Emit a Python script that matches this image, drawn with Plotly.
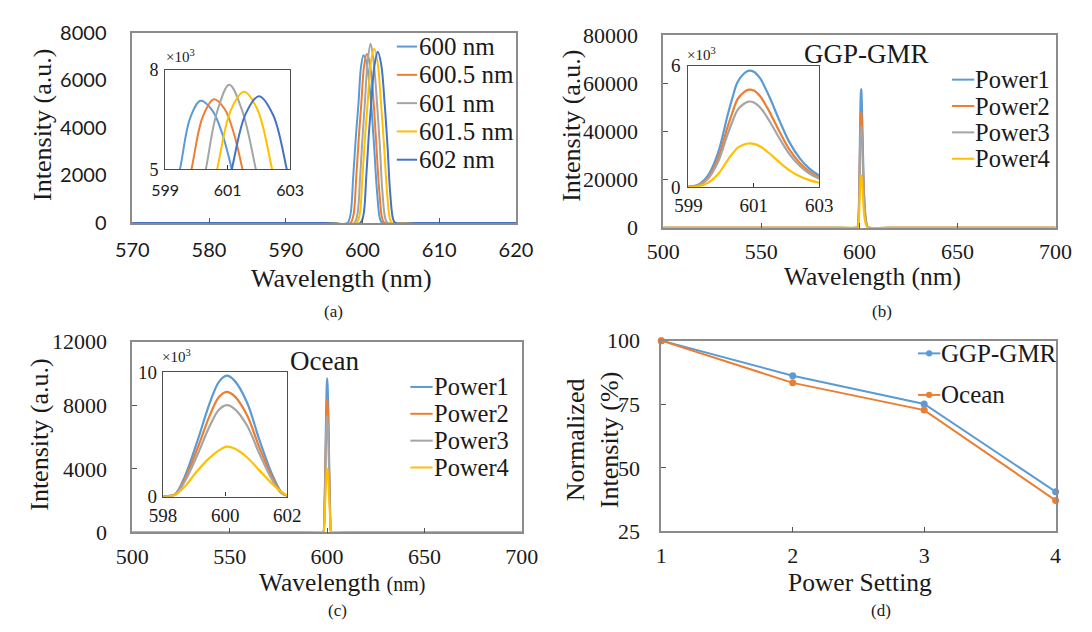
import plotly.graph_objects as go

W, H = 1092, 632
SERIF = "Liberation Serif"
SANS = "Lato"
TXT = "#1a1a1a"

# ---------------- DATA ----------------
# (a) emission spectra for different target wavelengths
a_names = ["600 nm", "600.5 nm", "601 nm", "601.5 nm", "602 nm"]
a_colors = ["#5B9BD5", "#ED7D31", "#A5A5A5", "#FFC000", "#4472C4"]
a600_x = [570, 575, 595, 598.0, 598.4, 598.8, 599.15, 599.47, 599.8, 600.13, 600.5, 600.8, 601.13, 601.5, 601.9, 602.3, 602.6, 606, 615, 620]
a600_y = [0, 0, 0, 0, 300, 2000, 3700, 5000, 6550, 7060, 6780, 6140, 5000, 3300, 1300, 150, 0, 0, 0, 0]
a6005_x = [570, 575, 595, 598.4, 598.8, 599.2, 599.52, 599.84, 600.2, 600.56, 600.9, 601.2, 601.47, 601.8, 602.2, 602.6, 602.9, 606, 615, 620]
a6005_y = [0, 0, 0, 0, 300, 2000, 3600, 5000, 6580, 7110, 6815, 6070, 5000, 3300, 1300, 150, 0, 0, 0, 0]
a601_x = [570, 575, 595, 598.9, 599.3, 599.7, 600.0, 600.3, 600.65, 601.05, 601.45, 601.9, 602.25, 602.6, 603.0, 603.3, 606, 615, 620]
a601_y = [0, 0, 0, 0, 300, 2000, 3600, 5000, 6700, 7545, 6800, 5000, 3300, 1300, 150, 0, 0, 0, 0]
a6015_x = [570, 575, 595, 599.2, 599.6, 600.0, 600.35, 600.66, 601.1, 601.52, 601.95, 602.42, 602.8, 603.2, 603.6, 603.9, 607, 615, 620]
a6015_y = [0, 0, 0, 0, 300, 2000, 3700, 5000, 6780, 7330, 6800, 5000, 3300, 1300, 150, 0, 0, 0, 0]
a602_x = [570, 575, 595, 599.7, 600.1, 600.5, 600.82, 601.13, 601.57, 602.0, 602.45, 602.89, 603.25, 603.6, 604.0, 604.3, 607, 615, 620]
a602_y = [0, 0, 0, 0, 300, 2000, 3700, 5000, 6660, 7200, 6640, 5000, 3300, 1300, 150, 0, 0, 0, 0]
a_xs = [a600_x, a6005_x, a601_x, a6015_x, a602_x]
a_ys = [a600_y, a6005_y, a601_y, a6015_y, a602_y]

# (b) GGP-GMR spectra at four power settings
p_names = ["Power1", "Power2", "Power3", "Power4"]
p_colors = ["#5B9BD5", "#ED7D31", "#A5A5A5", "#FFC000"]
b_x = [500, 510, 590, 598, 599.0, 599.3, 599.6, 599.9, 600.2, 600.35, 600.5, 600.7, 600.85, 601.0, 601.2, 601.35, 601.5, 601.8, 602.1, 602.4, 602.7, 603.0, 603.4, 604, 605, 615, 690, 700]
b_p1 = [0, 0, 0, 0, 300, 1200, 5800, 16700, 35700, 44350, 51800, 56160, 57600, 57020, 53600, 48960, 43800, 32300, 21900, 14400, 9200, 5800, 2900, 600, 0, 0, 0, 0]
b_p2 = [0, 0, 0, 0, 250, 1000, 4800, 14000, 29900, 37110, 43400, 46990, 48200, 47720, 44800, 40970, 36600, 27000, 18300, 12100, 7700, 4800, 2400, 500, 0, 0, 0, 0]
b_p3 = [0, 0, 0, 0, 200, 850, 4200, 12300, 26200, 32570, 38100, 41240, 42300, 41880, 39300, 35960, 32100, 23700, 16100, 10600, 6800, 4200, 2100, 400, 0, 0, 0, 0]
b_p4 = [0, 0, 0, 0, 100, 430, 2200, 6300, 13400, 16630, 19400, 21060, 21600, 21380, 20100, 18360, 16400, 12100, 8200, 5400, 3500, 2200, 1100, 200, 0, 0, 0, 0]
b_ys = [b_p1, b_p2, b_p3, b_p4]

# (c) Ocean spectra at four power settings
c_x = [500, 510, 590, 598.0, 598.2, 598.4, 598.7, 599.1, 599.5, 599.8, 600.05, 600.3, 600.7, 601.1, 601.5, 601.8, 602.0, 602.2, 610, 690, 700]
c_p1 = [0, 0, 0, 0, 50, 200, 1600, 4400, 7470, 9200, 9700, 9300, 7570, 4560, 1840, 390, 50, 0, 0, 0, 0]
c_p2 = [0, 0, 0, 0, 40, 170, 1390, 3800, 6470, 7980, 8400, 8060, 6550, 3950, 1600, 340, 40, 0, 0, 0, 0]
c_p3 = [0, 0, 0, 0, 40, 150, 1210, 3300, 5640, 6960, 7330, 7040, 5720, 3450, 1390, 290, 40, 0, 0, 0, 0]
c_p4 = [0, 0, 0, 0, 20, 150, 800, 2050, 3100, 3700, 4000, 3850, 3150, 2100, 1050, 400, 100, 0, 0, 0, 0]
c_ys = [c_p1, c_p2, c_p3, c_p4]

# (d) normalized intensity vs power setting
d_x = [1, 2, 3, 4]
d_names = ["GGP-GMR", "Ocean"]
d_colors = ["#5B9BD5", "#ED7D31"]
d_ggp = [100, 86.2, 75.1, 40.6]
d_ocean = [100, 83.4, 72.7, 37.2]
d_ys = [d_ggp, d_ocean]


def fx(px):
    return px / W


def fy(py):
    return 1 - py / H


fig = go.Figure()

spl = dict(shape="spline", smoothing=1.0)
for n, col, xs, ys in zip(a_names, a_colors, a_xs, a_ys):
    fig.add_trace(go.Scatter(x=xs, y=ys, name=n, mode="lines", line=dict(color=col, width=2, **spl),
                             xaxis="x", yaxis="y", showlegend=False))
    fig.add_trace(go.Scatter(x=xs, y=ys, name=n, mode="lines", line=dict(color=col, width=2, **spl),
                             xaxis="x5", yaxis="y5", showlegend=False))
for n, col, ys in zip(p_names, p_colors, b_ys):
    fig.add_trace(go.Scatter(x=b_x, y=ys, name=n, mode="lines", line=dict(color=col, width=2, **spl),
                             xaxis="x2", yaxis="y2", showlegend=False))
    fig.add_trace(go.Scatter(x=b_x, y=ys, name=n, mode="lines", line=dict(color=col, width=2.2, **spl),
                             xaxis="x6", yaxis="y6", showlegend=False))
for n, col, ys in zip(p_names, p_colors, c_ys):
    fig.add_trace(go.Scatter(x=c_x, y=ys, name=n, mode="lines", line=dict(color=col, width=2, **spl),
                             xaxis="x3", yaxis="y3", showlegend=False))
    fig.add_trace(go.Scatter(x=c_x, y=ys, name=n, mode="lines", line=dict(color=col, width=2.2, **spl),
                             xaxis="x7", yaxis="y7", showlegend=False))
for n, col, ys in zip(d_names, d_colors, d_ys):
    fig.add_trace(go.Scatter(x=d_x, y=ys, name=n, mode="lines+markers", line=dict(color=col, width=2),
                             marker=dict(color=col, size=7), cliponaxis=False,
                             xaxis="x4", yaxis="y4", showlegend=False))

FRAME = "#8c8c8c"
IFRAME = "#4d4d4d"


def main_x(dom, rng, tv, font, standoff, anchor):
    return dict(domain=[fx(dom[0]), fx(dom[1])], range=rng, tickvals=tv, tickformat="d",
                ticks="inside", ticklen=5, tickcolor="#555555", tickwidth=1,
                showline=True, linecolor=FRAME, linewidth=1.6, mirror=True,
                showgrid=False, zeroline=False, tickfont=font, ticklabelstandoff=standoff,
                anchor=anchor, fixedrange=True)


def main_y(dom, rng, tv, font, standoff, anchor, ticks="inside"):
    return dict(domain=[fy(dom[1]), fy(dom[0])], range=rng, tickvals=tv, tickformat="d",
                ticks=ticks, ticklen=5, tickcolor="#555555", tickwidth=1,
                showline=True, linecolor=FRAME, linewidth=1.6, mirror=True,
                showgrid=False, zeroline=False, tickfont=font, ticklabelstandoff=standoff,
                anchor=anchor, fixedrange=True)


def inset_x(dom, rng, tv, tt, font, standoff, anchor):
    return dict(domain=[fx(dom[0]), fx(dom[1])], range=rng, tickvals=tv, ticktext=tt,
                ticks="inside", ticklen=4, tickcolor="#333333",
                showline=True, linecolor=IFRAME, linewidth=1.2, mirror=True,
                showgrid=False, zeroline=False, tickfont=font, ticklabelstandoff=standoff,
                anchor=anchor, fixedrange=True)


def inset_y(dom, rng, tv, tt, font, standoff, anchor):
    return dict(domain=[fy(dom[1]), fy(dom[0])], range=rng, tickvals=tv, ticktext=tt,
                ticks="", showline=True, linecolor=IFRAME, linewidth=1.2, mirror=True,
                showgrid=False, zeroline=False, tickfont=font, ticklabelstandoff=standoff,
                anchor=anchor, fixedrange=True)


sans20 = dict(family=SANS, size=20, color=TXT)
serif22 = dict(family=SERIF, size=22, color=TXT)

fig.update_layout(
    width=W, height=H, margin=dict(l=0, r=0, t=0, b=0),
    paper_bgcolor="white", plot_bgcolor="white", showlegend=False,
    font=dict(family=SERIF, color=TXT),
    xaxis=main_x((119, 515), [570, 620], [570, 580, 590, 600, 610, 620], sans20, 8, "y"),
    yaxis=main_y((20.7, 219), [0, 8000], [0, 2000, 4000, 6000, 8000], sans20, 20, "x", ticks=""),
    xaxis2=main_x((667, 1072), [500, 700], [500, 550, 600, 650, 700], serif22, 3, "y2"),
    yaxis2=main_y((23, 224), [0, 80000], [0, 20000, 40000, 60000, 80000], serif22, 19, "x2"),
    xaxis3=main_x((119, 521), [500, 700], [500, 550, 600, 650, 700], serif22, 3, "y3"),
    yaxis3=main_y((342.7, 541.7), [0, 12000], [0, 4000, 8000, 12000], serif22, 19, "x3"),
    xaxis4=main_x((665, 1072), [1, 4], [1, 2, 3, 4], serif22, 3, "y4"),
    yaxis4=main_y((341.7, 540.7), [25, 100], [25, 50, 75, 100], serif22, 15, "x4"),
    xaxis5=inset_x((153, 282), [599, 603], [599, 601, 603], ["599", "601", "603"],
                   dict(family=SANS, size=16, color=TXT), 6, "y5"),
    yaxis5=inset_y((59, 163), [5000, 8000], [5000, 8000], ["5", "8"],
                   dict(family=SERIF, size=18, color=TXT), 2, "x5"),
    xaxis6=inset_x((693, 828), [599, 603], [599, 601, 603], ["599", "601", "603"],
                   dict(family=SERIF, size=19, color=TXT), 1, "y6"),
    yaxis6=inset_y((55, 181.7), [0, 60000], [0, 60000], ["0", "6"],
                   dict(family=SERIF, size=19, color=TXT), 3, "x6"),
    xaxis7=inset_x((150.7, 279), [598, 602], [598, 600, 602], ["598", "600", "602"],
                   dict(family=SERIF, size=19, color=TXT), 2, "y7"),
    yaxis7=inset_y((374.3, 504.3), [0, 10000], [0, 10000], ["0", "10"],
                   dict(family=SERIF, size=19, color=TXT), 1, "x7"),
)

ann = []
shapes = []


def text(t, x, y, size, family=SERIF, angle=0, xanchor="center"):
    ann.append(dict(text=t, x=fx(x), y=fy(y), xref="paper", yref="paper", showarrow=False,
                    xanchor=xanchor, yanchor="middle", textangle=angle,
                    font=dict(family=family, size=size, color=TXT)))


# axis titles
text("Wavelength (nm)", 335, 277, 26)
text("Intensity (a.u.)", 25.5, 117, 26, angle=-90)
text("Wavelength (nm)", 883.5, 275, 25.5)
text("Intensity (a.u.)", 572, 117.5, 26, angle=-90)
text("Wavelength <span style='font-size:20px'>(nm)</span>", 335, 594, 25.5)
text("Intensity (a.u.)", 23.6, 440, 26, angle=-90)
text("Power Setting", 870, 594, 25.5)
text("Normalized<br>Intensity (%)", 594, 446, 26, angle=-90)

# captions
text("(a)", 327, 311, 17)
text("(b)", 893, 311, 17)
text("(c)", 331, 623, 17)
text("(d)", 892, 623, 17)

# panel titles
text("GGP-GMR", 877, 43, 27)
text("Ocean", 317, 363, 27)

# inset multipliers
text("×10<sup>3</sup>", 169, 45, 15)
text("×10<sup>3</sup>", 706, 43, 15)
text("×10<sup>3</sup>", 164.5, 358, 15)


def legend(names, colors, x0, x1, xt, y0, dy, size, marker=False):
    for i, (n, c) in enumerate(zip(names, colors)):
        y = y0 + i * dy
        shapes.append(dict(type="line", xref="paper", yref="paper", x0=fx(x0), x1=fx(x1),
                           y0=fy(y), y1=fy(y), line=dict(color=c, width=2)))
        if marker:
            xm = (x0 + x1) / 2
            shapes.append(dict(type="circle", xref="paper", yref="paper", x0=fx(xm - 3.2),
                               x1=fx(xm + 3.2), y0=fy(y + 3.2), y1=fy(y - 3.2),
                               fillcolor=c, line=dict(color=c, width=0)))
        text(n, xt, y, size, xanchor="left")


legend(a_names, a_colors, 392, 413, 413, 35, 29.5, 25)
legend(p_names, p_colors, 965, 988, 987, 69.5, 27.5, 24.5)
legend(p_names, p_colors, 406, 429, 428, 390, 28, 24.5)
legend(d_names, d_colors, 930, 953, 952, 355, 43.3, 25, marker=True)

fig.update_layout(annotations=ann, shapes=shapes)
fig.write_html("out.html")
